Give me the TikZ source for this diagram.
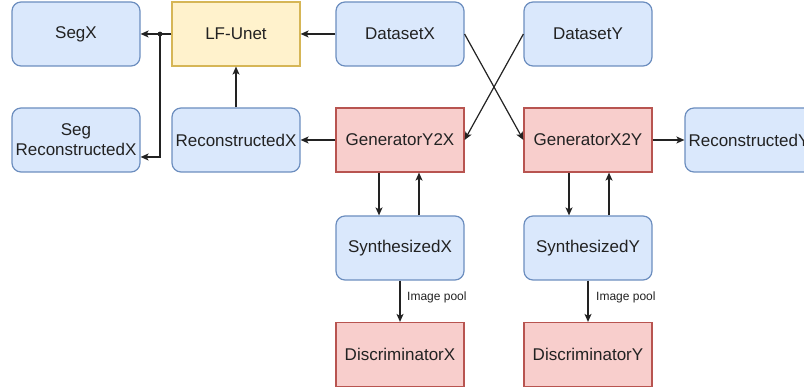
\documentclass[tikz,border=0pt]{standalone}
\usepackage{fontspec}
\setmainfont{Liberation Sans}
\usetikzlibrary{arrows.meta}
\definecolor{bfill}{HTML}{DAE8FC}\definecolor{bline}{HTML}{6C8EBF}
\definecolor{yfill}{HTML}{FFF2CC}\definecolor{yline}{HTML}{D6B656}
\definecolor{rfill}{HTML}{F8CECC}\definecolor{rline}{HTML}{B85450}
\definecolor{ink}{HTML}{222222}
\tikzset{
  box/.style={minimum width=128pt,minimum height=64pt,inner sep=0pt,line width=1.2pt,
    font=\fontsize{17}{20}\selectfont,text=ink,align=center},
  bluebox/.style={box,draw=bline,fill=bfill,rounded corners=9pt},
  yellowbox/.style={box,draw=yline,fill=yfill},
  redbox/.style={box,draw=rline,fill=rfill},
  arr/.style={draw=ink,line width=1.2pt,-{Stealth[length=8pt,width=7pt,inset=2pt]}},
  lbl/.style={font=\fontsize{12}{14}\selectfont,text=ink,inner sep=0pt}
}
\begin{document}
\begin{tikzpicture}[x=1pt,y=-1pt]
\useasboundingbox (0,0) rectangle (804,387);
\clip (0,0) rectangle (804,387);
\node[bluebox] (segx) at (76,34) {SegX};
\node[yellowbox] (lf) at (236,34) {LF-Unet};
\node[bluebox] (dx) at (400,34) {DatasetX};
\node[bluebox] (dy) at (588,34) {DatasetY};
\node[bluebox] (segrx) at (76,140) {Seg\\ReconstructedX};
\node[bluebox] (rx) at (236,140) {ReconstructedX};
\node[redbox] (gyx) at (400,140) {GeneratorY2X};
\node[redbox] (gxy) at (588,140) {GeneratorX2Y};
\node[bluebox] (ry) at (749,140) {ReconstructedY};
\node[bluebox] (sx) at (400,248) {SynthesizedX};
\node[bluebox] (sy) at (588,248) {SynthesizedY};
\node[redbox] (dcx) at (400,354.5) {DiscriminatorX};
\node[redbox] (dcy) at (588,354.5) {DiscriminatorY};
\coordinate (j) at (160,34);
\draw[arr] (lf.west) -- (segx.east);
\draw[arr] (j) |- ([yshift=-17pt]segrx.east);
\fill[ink] (j) circle (2.4pt);
\draw[arr] (dx.west) -- (lf.east);
\draw[arr] (rx.north) -- (lf.south);
\draw[arr] (gyx.west) -- (rx.east);
\draw[arr] (dx.east) -- (gxy.west);
\draw[arr] (dy.west) -- (gyx.east);
\draw[arr] (gxy.east) -- (ry.west);
\draw[arr] (gyx.south -| 379,0) -- (sx.north -| 379,0);
\draw[arr] (sx.north -| 419,0) -- (gyx.south -| 419,0);
\draw[arr] (gxy.south -| 569,0) -- (sy.north -| 569,0);
\draw[arr] (sy.north -| 609,0) -- (gxy.south -| 609,0);
\draw[arr] (sx.south) -- (dcx.north);
\draw[arr] (sy.south) -- (dcy.north);
\node[lbl,anchor=west] (ipx) at (407,297) {Image pool};
\node[lbl,anchor=west] (ipy) at (596,297) {Image pool};
\end{tikzpicture}
\end{document}
